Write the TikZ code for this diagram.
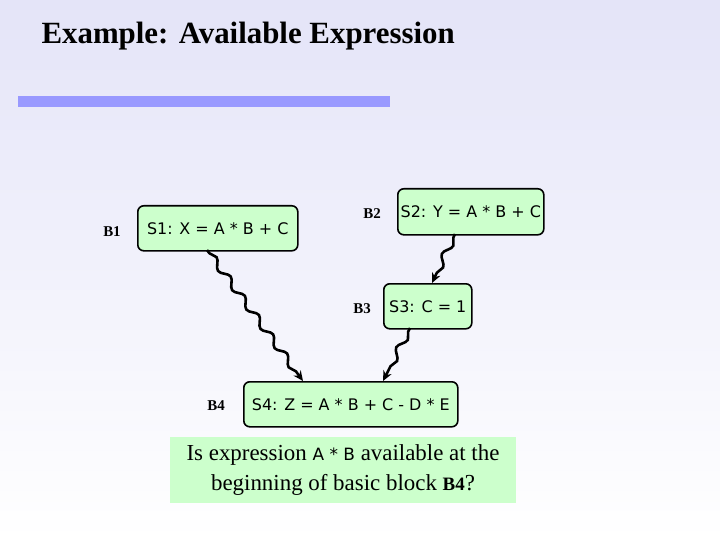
\documentclass[tikz,border=0pt]{standalone}
\usepackage{fontspec}
\setmainfont{Liberation Serif}
\newfontfamily\boxfont{DejaVu Sans}
\usetikzlibrary{arrows.meta,decorations.pathmorphing}
\definecolor{boxgreen}{RGB}{204,255,204}
\definecolor{barblue}{RGB}{153,153,255}
\definecolor{bgtop}{RGB}{228,228,248}
\tikzset{
  stmt/.style={draw,line width=1.6pt,rounded corners=6pt,fill=boxgreen,
    font=\boxfont\fontsize{16}{18}\selectfont,inner sep=0pt,anchor=north west},
  blk/.style={font=\bfseries\fontsize{15}{17}\selectfont},
  wavy/.style={line width=2.6pt,-{Stealth[length=10pt,width=9pt]},
    decorate,decoration={snake,amplitude=3.5pt,segment length=24pt,
    pre length=4pt,post length=9pt}}
}
\begin{document}
\begin{tikzpicture}[x=1bp,y=-1bp]
	\useasboundingbox (0,0) rectangle (720,540);
	\shade [top color=bgtop,bottom color=white] (0,0) rectangle (720,540);
	% title and bar
	\node (title) [font=\bfseries\fontsize{31}{34}\selectfont,anchor=west] at (38,36) {Example: Available Expression};
	\fill [barblue] (18,96) rectangle (390,107);
	% blocks
	\node (s1) [stmt,minimum width=160bp,minimum height=45bp] at (137,205) {S1: X = A * B + C};
	\node (s2) [stmt,minimum width=146bp,minimum height=46bp] at (397,188) {S2: Y = A * B + C};
	\node (s3) [stmt,minimum width=88bp,minimum height=45bp] at (383,283) {S3: C = 1};
	\node (s4) [stmt,minimum width=214bp,minimum height=45bp] at (243,381) {S4: Z = A * B + C - D * E};
	\node (b1) [blk] at (112,232) {B1};
	\node (b2) [blk] at (372,214) {B2};
	\node (b3) [blk] at (362,309) {B3};
	\node (b4) [blk] at (216,406) {B4};
	% edge ends
	\coordinate (e1) at (207,250);
	\coordinate (e2) at (455,234);
	\coordinate (e3) at (410,328);
	\coordinate (f1) at (303,381);
	\coordinate (f2) at (432,283);
	\coordinate (f3) at (383,381);
	% edges
	\draw [wavy] (e1) -- (f1);
	\draw [wavy] (e2) -- (f2);
	\draw [wavy] (e3) -- (f3);
	% question
	\node (q) [fill=boxgreen,minimum width=346bp,minimum height=66bp,align=center,
		font=\fontsize{23}{30}\selectfont] at (343,470)
		{Is expression {\boxfont\fontsize{17}{19}\selectfont A * B} available at the\\beginning of basic block \textbf{\fontsize{19}{19}\selectfont B4}?};
\end{tikzpicture}
\end{document}
